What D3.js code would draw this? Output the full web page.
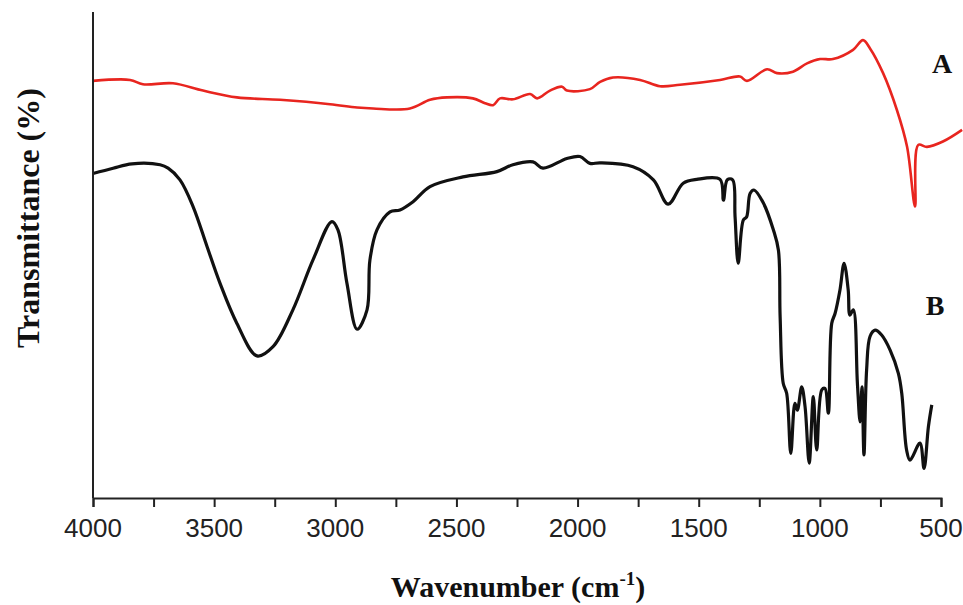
<!DOCTYPE html>
<html>
<head>
<meta charset="utf-8">
<script src="https://cdn.jsdelivr.net/npm/d3@7"></script>
<style>
  html, body { margin: 0; padding: 0; background: #fff; }
  svg { display: block; }
  .tick-label { font-family: "Liberation Sans", Arial, sans-serif; font-size: 26px; fill: #222; }
  .title { font-family: "Liberation Serif", "Times New Roman", serif; font-weight: bold; font-size: 30px; fill: #111; }
</style>
</head>
<body>
<div id="chart"></div>
<script>
// FTIR spectra, A (red) and B (black).
// Transmittance is in arbitrary percent, the figure shows no y ticks.
var waveA = [4000, 3847, 3794, 3670, 3546, 3406, 3228, 3022, 2910, 2844, 2692, 2609, 2539, 2432,
             2382, 2349, 2320, 2267, 2196, 2167, 2114, 2064, 2044, 1949, 1907, 1854, 1742, 1660,
             1577, 1412, 1330, 1301, 1218, 1177, 1111, 1053, 999, 946, 863, 822, 793, 739, 682,
             640, 607, 594, 558, 492, 413];
var transA = [86.0, 86.2, 85.3, 85.5, 84.0, 82.6, 82.1, 81.2, 80.5, 80.3, 80.3, 82.1, 82.6, 82.4,
              81.4, 81.0, 82.4, 82.2, 83.3, 82.4, 84.0, 84.8, 84.0, 84.3, 85.8, 86.7, 86.2, 84.9,
              85.2, 86.2, 86.9, 86.0, 88.4, 87.6, 87.9, 89.6, 90.5, 90.5, 92.4, 94.4, 92.7, 87.6, 80.0,
              72.4, 60.1, 72.8, 72.4, 73.5, 75.9];

var waveB = [4000, 3917, 3839, 3723, 3690, 3641, 3587, 3529, 3476, 3406, 3323, 3257, 3175, 3092,
             3014, 2989, 2952, 2910, 2869, 2857, 2828, 2774, 2733, 2679, 2609, 2473, 2333, 2267,
             2184, 2143, 2044, 1990, 1949, 1907, 1771, 1687, 1626, 1564, 1508, 1412, 1398, 1382,
             1360, 1350, 1337, 1316, 1302, 1288, 1272, 1233, 1192, 1171, 1164, 1151, 1137, 1120,
             1103, 1093, 1075, 1061, 1044, 1027, 1013, 992, 979, 965, 951, 937, 917, 900, 883,
             876, 862, 845, 834, 826, 818, 807, 793, 772, 745, 710, 676, 662, 642, 628, 587, 570,
             552, 538];
var transB = [66.9, 68.0, 68.9, 68.7, 68.0, 65.6, 60.1, 51.8, 44.3, 36.0, 29.3, 31.2, 38.8, 49.1,
              57.0, 55.3, 44.3, 34.8, 38.8, 49.1, 55.3, 59.0, 59.4, 61.1, 64.2, 66.2, 67.3, 68.7,
              69.3, 68.0, 70.0, 70.4, 69.0, 69.1, 68.3, 65.6, 60.6, 64.9, 65.7, 65.7, 61.4, 65.6,
              65.6, 58.0, 48.4, 57.3, 58.0, 62.8, 63.5, 60.8, 55.3, 51.1, 37.4, 23.6, 21.6, 9.2,
              19.5, 18.1, 22.9, 18.8, 7.2, 20.9, 9.9, 22.3, 22.6, 17.5, 36.0, 38.1, 42.9, 48.4, 42.9,
              37.7, 38.8, 23.6, 15.7, 22.9, 8.9, 26.4, 33.3, 34.6, 33.6, 30.5, 25.7, 21.6, 9.9, 7.8,
              11.3, 6.1, 14.7, 19.2];

var xTicks = [4000, 3750, 3500, 3250, 3000, 2750, 2500, 2250, 2000, 1750, 1500, 1250, 1000, 750, 500];
var xLabels = [4000, 3500, 3000, 2500, 2000, 1500, 1000, 500];
var curveNames = ["A", "B"];

(function () {
  var W = 963, H = 605;
  var left = 93, right = 941, top = 12, bottom = 498;

  var svg = d3.select("#chart").append("svg")
    .attr("width", W).attr("height", H)
    .attr("viewBox", [0, 0, W, H]);

  var x = d3.scaleLinear().domain([4000, 500]).range([left, right]);
  var y = d3.scaleLinear().domain([0, 100]).range([bottom, 13]);

  function zip(ws, ts) {
    return ws.map(function (w, i) { return [w, ts[i]]; });
  }

  var line = d3.line()
    .x(function (d) { return x(d[0]); })
    .y(function (d) { return y(d[1]); })
    .curve(d3.curveCatmullRom.alpha(0.5));

  svg.append("path")
    .datum(zip(waveA, transA))
    .attr("d", line)
    .attr("fill", "none")
    .attr("stroke", "#e8251f")
    .attr("stroke-width", 2.6)
    .attr("stroke-linejoin", "round");

  svg.append("path")
    .datum(zip(waveB, transB))
    .attr("d", line)
    .attr("fill", "none")
    .attr("stroke", "#111")
    .attr("stroke-width", 3.2)
    .attr("stroke-linejoin", "round");

  // -- axes: plain y line, x axis with minor ticks every 250 -------------
  svg.append("line")
    .attr("x1", left).attr("x2", left)
    .attr("y1", top).attr("y2", bottom)
    .attr("stroke", "#222").attr("stroke-width", 2);

  var xAxis = svg.append("g")
    .attr("transform", "translate(0," + bottom + ")")
    .call(d3.axisBottom(x).tickValues(xTicks).tickSize(9).tickFormat(""));
  xAxis.select(".domain").attr("stroke", "#222").attr("stroke-width", 2);
  xAxis.selectAll(".tick line").attr("stroke", "#222").attr("stroke-width", 2);

  svg.append("g").selectAll("text")
    .data(xLabels).join("text")
    .attr("class", "tick-label")
    .attr("x", function (d) { return x(d); })
    .attr("y", 537)
    .attr("text-anchor", "middle")
    .text(function (d) { return d; });

  // -- titles -------------------------------------------------------------
  var xt = svg.append("text")
    .attr("class", "title")
    .attr("x", 518).attr("y", 597)
    .attr("text-anchor", "middle");
  xt.append("tspan").text("Wavenumber (cm");
  xt.append("tspan").attr("dy", -12).style("font-size", "19px").text("-1");
  xt.append("tspan").attr("dy", 12).text(")");

  svg.append("text")
    .attr("class", "title")
    .style("font-size", "32px")
    .attr("transform", "translate(39,218) rotate(-90)")
    .attr("text-anchor", "middle")
    .text("Transmittance (%)");

  // -- curve names ----------------------------------------------------------
  var namePos = [[942, 73], [935, 315]];
  svg.append("g").selectAll("text")
    .data(curveNames).join("text")
    .attr("class", "title")
    .style("font-size", "28px")
    .attr("x", function (d, i) { return namePos[i][0]; })
    .attr("y", function (d, i) { return namePos[i][1]; })
    .attr("text-anchor", "middle")
    .text(function (d) { return d; });
})();
</script>
</body>
</html>
